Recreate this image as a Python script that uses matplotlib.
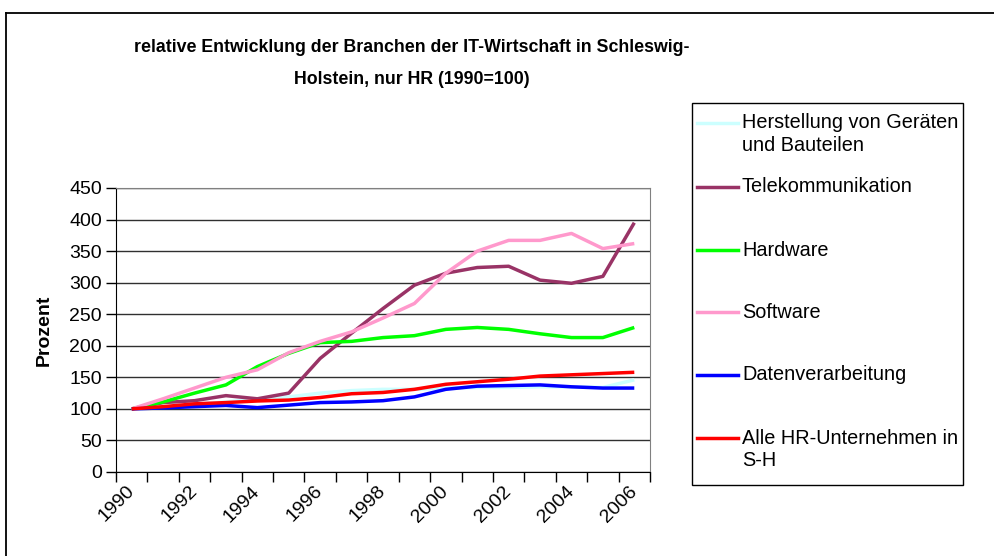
import matplotlib
matplotlib.use("Agg")
import matplotlib.pyplot as plt
from matplotlib.lines import Line2D
from matplotlib.patches import Rectangle

# data (1990 = 100)
years = list(range(1990, 2007))
herstellung = [100, 103, 107, 111, 116, 119, 125, 129, 131, 131, 133, 134, 134, 135, 135, 134, 146]
telekom = [100, 110, 113, 121, 116, 125, 180, 220, 259, 296, 315, 324, 326, 304, 299, 310, 395]
hardware = [100, 111, 125, 138, 167, 188, 205, 207, 213, 216, 226, 229, 226, 219, 213, 213, 229]
software = [100, 116, 133, 150, 162, 189, 207, 222, 244, 267, 315, 350, 367, 367, 378, 354, 362]
daten = [100, 101.5, 103.5, 105.5, 102, 106, 110, 111, 113, 119, 131, 136, 137, 138, 135, 133, 133]
alle = [100, 103.5, 108, 110, 112.5, 114, 118, 124, 126, 131, 139, 143, 147, 152, 154, 156, 158]

series = [herstellung, telekom, hardware, software, daten, alle]
labels = ["Herstellung von Geräten\nund Bauteilen", "Telekommunikation", "Hardware",
          "Software", "Datenverarbeitung", "Alle HR-Unternehmen in\nS-H"]
colors = ["#CCFFFF", "#993366", "#00FF00", "#FF99CC", "#0000FF", "#FF0000"]

plt.rcParams['font.family'] = ['Liberation Sans', 'DejaVu Sans']

W, H = 995, 556
fig = plt.figure(figsize=(W / 100, H / 100), dpi=100)

def fx(px):
    return px / W

def fy(py):
    return 1 - py / H

# outer chart frame (top and left edges only visible)
fig.add_artist(Line2D([fx(6), fx(6)], [fy(13), fy(556)], color="black", lw=1.3))
fig.add_artist(Line2D([fx(6), fx(995)], [fy(13), fy(13)], color="black", lw=1.3))

# plot area
ax = fig.add_axes([fx(116), fy(472), fx(650) - fx(116), fy(188) - fy(472)])
x = list(range(len(years)))
for vals, c in zip(series, colors):
    ax.plot(x, vals, color=c, lw=2.5, solid_capstyle="butt")

ax.set_ylim(0, 450)
ax.set_xlim(-0.5, len(years) - 0.5)
ax.set_yticks(range(0, 451, 50))
ax.yaxis.grid(True, color="#303030", lw=1)
ax.set_axisbelow(True)
ax.tick_params(axis="y", length=7, width=1, labelsize=14, pad=3)

# category boundaries as major ticks, labels on every 2nd category centre
ax.set_xticks([i - 0.5 for i in range(len(years) + 1)])
ax.set_xticklabels([])
ax.tick_params(axis="x", which="major", length=7, width=1)
ax.set_xticks(x[::2], minor=True)
ax.set_xticklabels([str(y) for y in years[::2]], minor=True, rotation=45,
                   ha="right", va="center", rotation_mode="anchor")
ax.tick_params(axis="x", which="minor", length=0, labelsize=14, pad=12)

for s in ["top", "right"]:
    ax.spines[s].set_color("#808080")
for s in ["left", "bottom"]:
    ax.spines[s].set_color("black")
ax.set_ylabel("Prozent", fontsize=14, fontweight="bold", labelpad=12)

# title
fig.text(fx(412), fy(48), "relative Entwicklung der Branchen der IT-Wirtschaft in Schleswig-",
         ha="center", va="center", fontsize=12.8, fontweight="bold")
fig.text(fx(412), fy(80), "Holstein, nur HR (1990=100)",
         ha="center", va="center", fontsize=12.8, fontweight="bold")

# legend box
fig.add_artist(Rectangle((fx(692), fy(485)), fx(963) - fx(692), fy(103) - fy(485),
                         fill=False, edgecolor="black", lw=1))
leg_y = [123, 187, 250, 312, 375, 438]
for lab, c, ly in zip(labels, colors, leg_y):
    fig.add_artist(Line2D([fx(697), fx(738)], [fy(ly), fy(ly)], color=c, lw=2.5))
    for k, part in enumerate(lab.split("\n")):
        fig.text(fx(742), fy(ly + 23 * k), part, ha="left", va="center", fontsize=14.3)

fig.savefig("out.png", dpi=100)
